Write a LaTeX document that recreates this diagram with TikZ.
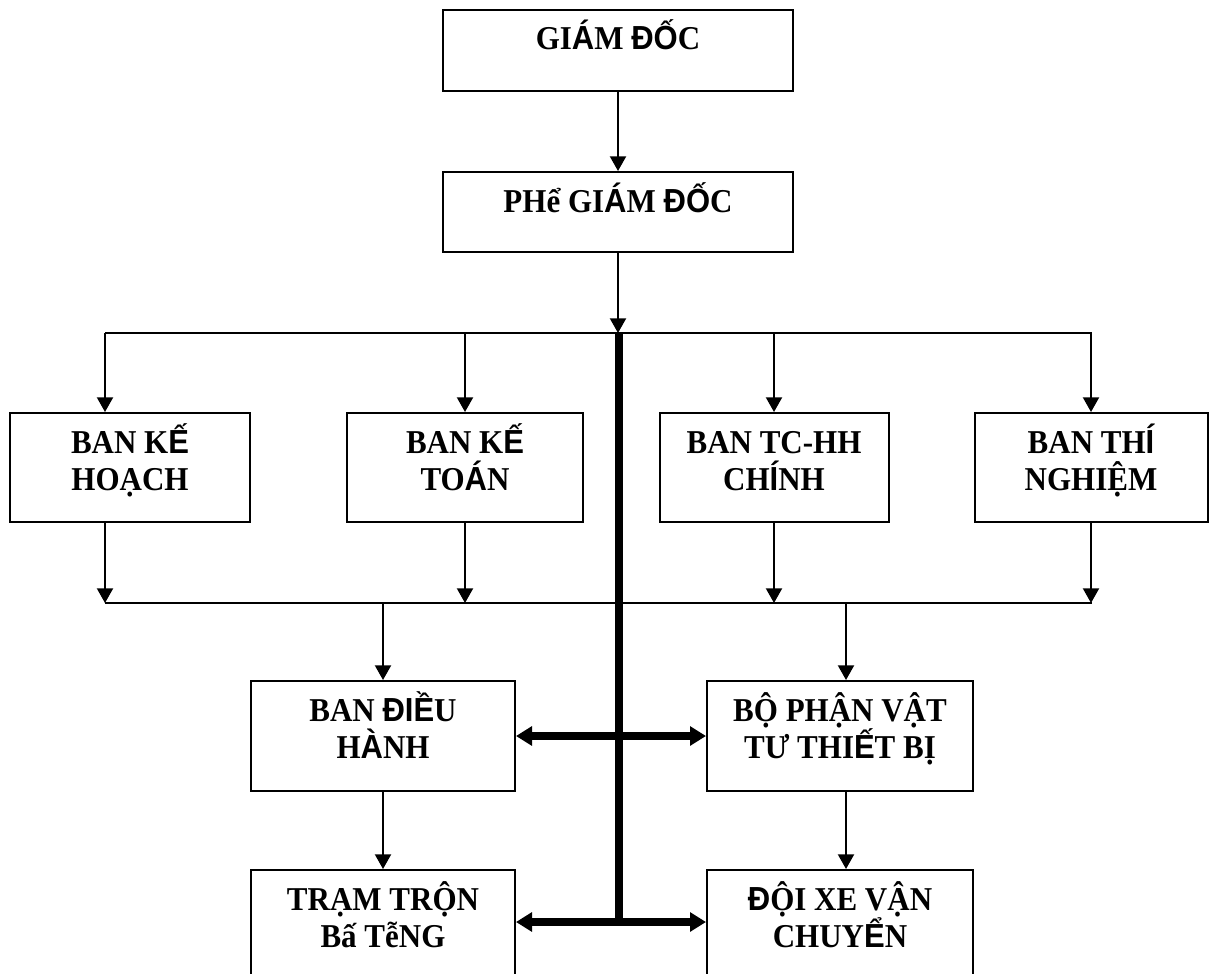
\documentclass[tikz,border=0pt]{standalone}
\usepackage{fontspec}
\setmainfont{Liberation Serif}[FakeStretch=0.93]
\newfontfamily\sansfont{Liberation Sans}[FakeStretch=0.93]
\newcommand{\sg}[1]{{\sansfont #1}}
\newcommand{\boxtext}[1]{\vtop{\lineskiplimit=-100pt\let\\\cr
  \halign{\hfil##\hfil\cr #1\crcr}}}
\usetikzlibrary{arrows.meta}

\begin{document}
\begin{tikzpicture}[x=0.75pt,y=0.75pt,yscale=-1,xscale=1,
  box/.style={draw, line width=1.5pt, inner sep=0pt},
  lbl/.style={anchor=base, inner sep=0pt, yshift=-30.75pt,
    font=\fontsize{25}{27.75}\selectfont\bfseries},
  arr/.style={line width=1.5pt, -{Triangle[length=11pt,width=12pt]}},
  fat/.style={line width=6.5pt, {Triangle[length=12pt,width=14pt]}-{Triangle[length=12pt,width=14pt]}},
  bar/.style={line width=6.5pt}]
\useasboundingbox (0,0) rectangle (1217,974);

%Shape: Rectangle
\node[box, minimum width=262.5pt, minimum height=60.75pt] (gd) at (618,50.5) {};
\node[box, minimum width=262.5pt, minimum height=60pt] (pgd) at (618,212) {};
\node[box, minimum width=180pt, minimum height=81.75pt] (bkh) at (130,467.5) {};
\node[box, minimum width=177pt, minimum height=81.75pt] (bkt) at (465,467.5) {};
\node[box, minimum width=171.75pt, minimum height=81.75pt] (btc) at (774,467.5) {};
\node[box, minimum width=174.75pt, minimum height=81.75pt] (btn) at (1091,467.5) {};
\node[box, minimum width=198pt, minimum height=82.5pt] (bdh) at (383,736) {};
\node[box, minimum width=199.5pt, minimum height=82.5pt] (bvt) at (840,736) {};
\node[box, minimum width=198pt, minimum height=82.5pt] (btr) at (383,925) {};
\node[box, minimum width=199.5pt, minimum height=82.5pt] (dxe) at (840,925) {};

% Text Node
\node[lbl] (gd-t) at (gd.north) {GI\sg{Á}M \sg{ĐỐ}C};
\node[lbl] (pgd-t) at (pgd.north) {PHể GI\sg{Á}M \sg{ĐỐ}C};
\node[lbl] (bkh-t) at (bkh.north) {\boxtext{BAN K\sg{Ế}\\HOẠCH}};
\node[lbl] (bkt-t) at (bkt.north) {\boxtext{BAN K\sg{Ế}\\TO\sg{Á}N}};
\node[lbl] (btc-t) at (btc.north) {\boxtext{BAN TC-HH\\CH\sg{Í}NH}};
\node[lbl] (btn-t) at (btn.north) {\boxtext{BAN TH\sg{Í}\\NGHIỆM}};
\node[lbl] (bdh-t) at (bdh.north) {\boxtext{BAN \sg{ĐIỀ}U\\H\sg{À}NH}};
\node[lbl] (bvt-t) at (bvt.north) {\boxtext{BỘ PHẬN VẬT\\TƯ THI\sg{Ế}T BỊ}};
\node[lbl] (btr-t) at (btr.north) {\boxtext{TRẠM TRỘN\\Bấ TễNG}};
\node[lbl] (dxe-t) at (dxe.north) {\boxtext{\sg{Đ}ỘI XE VẬN\\CHUY\sg{Ể}N}};

\coordinate (bus) at (618,333);
\coordinate (busL) at (105,333);
\coordinate (busR) at (1092,333);
\coordinate (bus2L) at (105,603);
\coordinate (bus2R) at (1092,603);
\coordinate (j2) at (846,603);
\coordinate (top) at (619,333);
\coordinate (hub) at (619,922);

%Straight Lines
\draw[arr] (gd) -- (pgd);
\draw[arr] (pgd) -- (bus);
\draw[line width=1.5pt] (busL) -- (busR);
\draw[arr] (busL) -- (busL |- bkh.north);
\draw[arr] (bkt.north |- busL) -- (bkt);
\draw[arr] (btc.north |- busL) -- (btc);
\draw[arr] (btn.north |- busL) -- (btn);
%Straight Lines
\draw[arr] (busL |- bkh.south) -- (bus2L);
\draw[arr] (bkt) -- (bkt |- bus2L);
\draw[arr] (btc) -- (btc |- bus2L);
\draw[arr] (btn) -- (btn |- bus2L);
\draw[line width=1.5pt] (bus2L) -- (bus2R);
\draw[arr] (bdh |- bus2L) -- (bdh);
\draw[arr] (j2) -- (j2 |- bvt.north);
\draw[arr] (bdh) -- (btr);
\draw[arr] (j2 |- bvt.south) -- (j2 |- dxe.north);
%Thick Arrows
\draw[bar] (top) -- (hub);
\draw[fat] (bdh) -- (bvt);
\draw[fat] (hub -| btr.east) -- (hub -| dxe.west);

\end{tikzpicture}
\end{document}
